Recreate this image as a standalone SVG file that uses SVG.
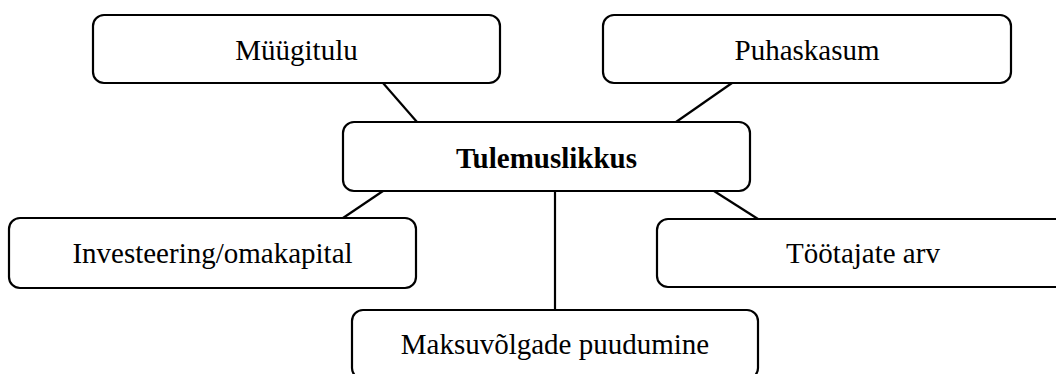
<svg xmlns="http://www.w3.org/2000/svg" width="1056" height="374" viewBox="0 0 1056 374">
<style>
.box{fill:#fff;stroke:#000;stroke-width:2.2}
.lbl{font-family:"Liberation Serif","Times New Roman",serif;font-size:29px;fill:#000;text-anchor:middle}
.b{font-weight:bold}
.con line{stroke:#000;stroke-width:2.2}
</style>
<rect width="1056" height="374" fill="#fff"/>
<g id="connectors" class="con">
<line x1="383" y1="83" x2="417" y2="122"/>
<line x1="732" y1="83" x2="676" y2="122"/>
<line x1="383" y1="191" x2="343" y2="218"/>
<line x1="714" y1="191" x2="758" y2="219"/>
<line x1="555" y1="191" x2="555" y2="310"/>
</g>
<g id="n-myygitulu">
<rect class="box" x="93" y="15" width="407" height="68" rx="11"/>
<text class="lbl" x="296.5" y="60">Müügitulu</text>
</g>
<g id="n-puhaskasum">
<rect class="box" x="603" y="15" width="408" height="68" rx="11"/>
<text class="lbl" x="807" y="60">Puhaskasum</text>
</g>
<g id="n-tulemuslikkus">
<rect class="box" x="343" y="122" width="407" height="69" rx="11"/>
<text class="lbl b" x="546.5" y="167.5">Tulemuslikkus</text>
</g>
<g id="n-investeering">
<rect class="box" x="9" y="218" width="407" height="70" rx="11"/>
<text class="lbl" x="212.5" y="263">Investeering/omakapital</text>
</g>
<g id="n-tootajate">
<rect class="box" x="657" y="219" width="412" height="68" rx="11"/>
<text class="lbl" x="863" y="263">Töötajate arv</text>
</g>
<g id="n-maksuvolgade">
<rect class="box" x="352" y="310" width="406" height="69" rx="11"/>
<text class="lbl" x="555" y="354">Maksuvõlgade puudumine</text>
</g>
</svg>
